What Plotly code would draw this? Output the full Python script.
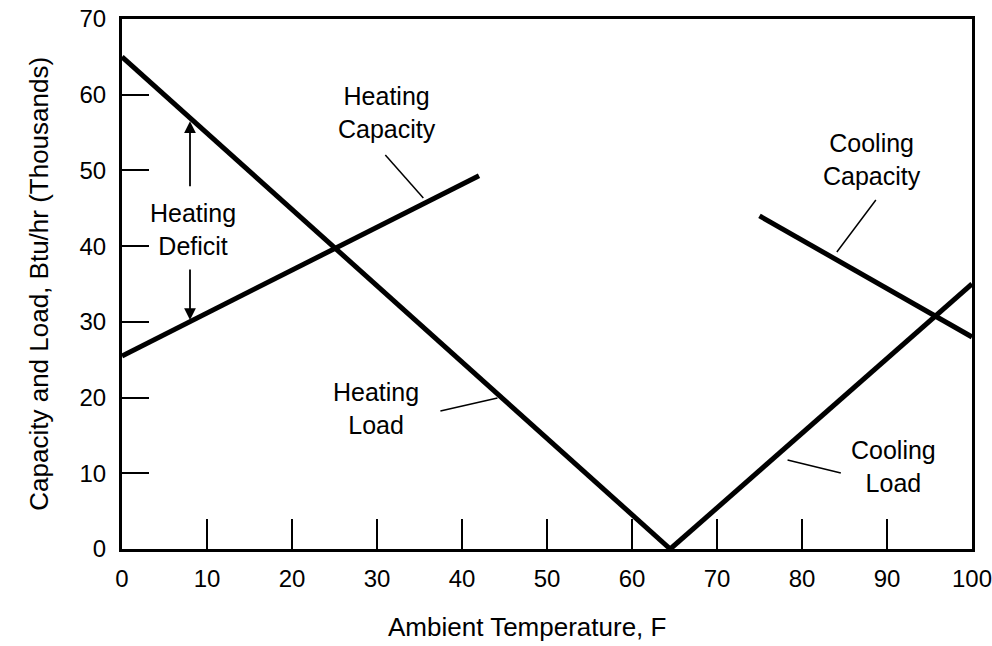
import plotly.graph_objects as go

# Data (temperature in F, capacity/load in thousands Btu/hr)
heating_load_x = [0, 64.5]
heating_load_y = [65, 0]
cooling_load_x = [64.5, 100]
cooling_load_y = [0, 35]
heating_cap_x = [0, 42]
heating_cap_y = [25.5, 49.3]
cooling_cap_x = [75, 100]
cooling_cap_y = [44, 28]

x_tickvals = [0, 10, 20, 30, 40, 50, 60, 70, 80, 90, 100]
y_tickvals = [0, 10, 20, 30, 40, 50, 60, 70]

FONT = "Liberation Sans, Arial, sans-serif"
LW = 5

fig = go.Figure()
for xs, ys, name in [
    (heating_load_x, heating_load_y, "Heating Load"),
    (cooling_load_x, cooling_load_y, "Cooling Load"),
    (heating_cap_x, heating_cap_y, "Heating Capacity"),
    (cooling_cap_x, cooling_cap_y, "Cooling Capacity"),
]:
    fig.add_trace(go.Scatter(x=xs, y=ys, mode="lines", name=name,
                             line=dict(color="black", width=LW),
                             showlegend=False, hoverinfo="skip"))

# leader lines (data coords)
leaders = [
    ((30.98, 52.04), (35.45, 46.36)),
    ((37.46, 18.23), (44.17, 19.94)),
    ((88.69, 46.10), (84.10, 39.23)),
    ((78.3, 11.76), (84.57, 10.04)),
]
for (x0, y0), (x1, y1) in leaders:
    fig.add_shape(type="line", x0=x0, y0=y0, x1=x1, y1=y1, xref="x", yref="y",
                  line=dict(color="black", width=1.5))

labels = [
    ("Heating<br>Capacity", 31.2, 57.65),
    ("Heating<br>Deficit", 8.36, 42.2),
    ("Heating<br>Load", 29.9, 18.5),
    ("Cooling<br>Capacity", 88.2, 51.45),
    ("Cooling<br>Load", 90.8, 10.9),
]
for t, x, y in labels:
    fig.add_annotation(text=t, x=x, y=y, xref="x", yref="y", showarrow=False,
                       font=dict(family=FONT, size=25, color="black"), align="center")

# Heating deficit arrows
for tip, tail in [((8.0, 56.5), (8.0, 47.7)), ((8.0, 30.25), (8.0, 37.1))]:
    fig.add_annotation(x=tip[0], y=tip[1], ax=tail[0], ay=tail[1],
                       xref="x", yref="y", axref="x", ayref="y", text="",
                       showarrow=True, arrowhead=2, arrowsize=1.3, arrowwidth=1.8,
                       arrowcolor="black")

# axis titles
fig.add_annotation(text="Ambient Temperature, F", x=47.7, y=-0.147, xref="x", yref="paper",
                   yanchor="middle", showarrow=False,
                   font=dict(family=FONT, size=26, color="black"))
fig.add_annotation(text="Capacity and Load, Btu/hr (Thousands)", x=-0.118, y=0.5,
                   xref="paper", yref="paper", textangle=-90, showarrow=False,
                   font=dict(family=FONT, size=26, color="black"))

fig.update_xaxes(range=[0, 100], tickvals=x_tickvals, ticktext=[str(v) for v in x_tickvals],
                 ticks="inside", ticklen=30, tickwidth=2, tickcolor="black",
                 showline=True, linecolor="black", linewidth=3, mirror=True,
                 showgrid=False, zeroline=False, automargin=False,
                 ticklabelstandoff=6, ticklabeloverflow="allow",
                 tickfont=dict(family=FONT, size=24, color="black"))
fig.update_yaxes(range=[0, 70], tickvals=y_tickvals, ticktext=[str(v) for v in y_tickvals],
                 ticks="inside", ticklen=27, tickwidth=2, tickcolor="black",
                 showline=True, linecolor="black", linewidth=3, mirror=True,
                 showgrid=False, zeroline=False, automargin=False,
                 ticklabelstandoff=8, ticklabeloverflow="allow",
                 tickfont=dict(family=FONT, size=24, color="black"))

fig.update_layout(width=992, height=646, margin=dict(l=122, r=20, t=19, b=97),
                  plot_bgcolor="white", paper_bgcolor="white", showlegend=False)

fig.write_html("out.html", config={"displayModeBar": False},
               post_script="document.body.style.margin='0';document.body.style.overflow='hidden';")
